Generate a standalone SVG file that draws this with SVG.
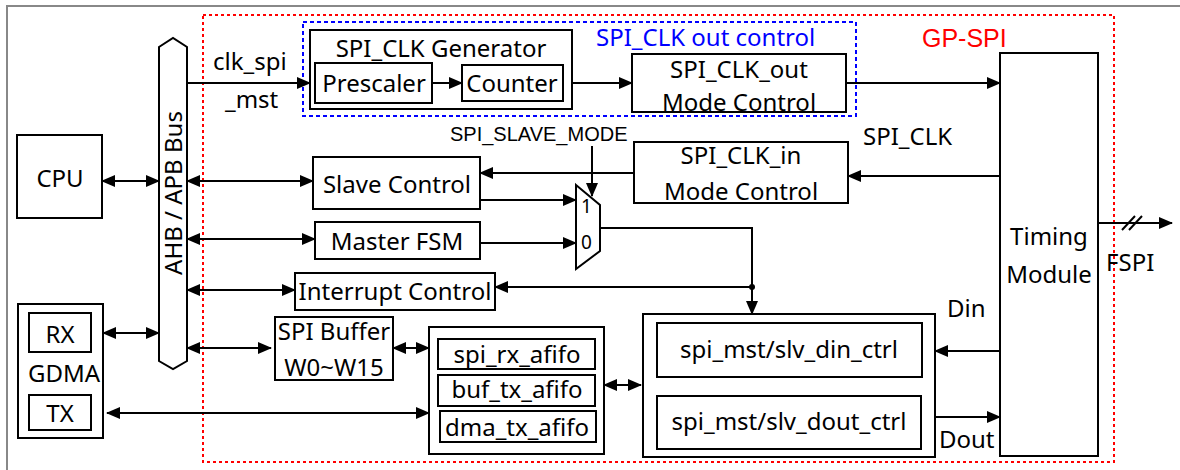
<svg xmlns="http://www.w3.org/2000/svg" width="1180" height="470" viewBox="0 0 1180 470">
<defs>
<style>
.b{fill:#fff;stroke:#000;stroke-width:2}
.n{fill:none;stroke:#000;stroke-width:2}
.t{font-family:"Noto Sans","Noto Sans CJK SC",sans-serif;font-size:24px;fill:#000}
.c{text-anchor:middle}
.a{font-family:"Liberation Sans",Arial,sans-serif}
.w{fill:none;stroke:#000;stroke-width:2}
.ar{marker-end:url(#ah)}
.bi{marker-start:url(#ah);marker-end:url(#ah)}
</style>
<marker id="ah" markerUnits="userSpaceOnUse" markerWidth="14" markerHeight="12" refX="13" refY="6" orient="auto-start-reverse"><path d="M0,0 L14,6 L0,12 z" fill="#000"/></marker>
</defs>
<rect x="7" y="6" width="1200" height="500" fill="#fff" stroke="#888" stroke-width="2"/>
<rect x="203" y="15" width="911" height="447" fill="none" stroke="#f00" stroke-width="2" stroke-dasharray="3,3"/>
<rect x="303" y="22" width="553" height="94" fill="none" stroke="#00f" stroke-width="2" stroke-dasharray="4,3"/>
<text class="t" x="596" y="46" style="fill:#00f">SPI_CLK out control</text>
<text class="t a" x="922" y="47" style="fill:#f00;font-size:25px">GP-SPI</text>

<g id="bus"><path class="b" d="M159,47 L173,38 L187,47 L187,361 L173,369 L159,361 Z"/><text class="t c" transform="translate(182,193) rotate(-90)">AHB / APB Bus</text></g>
<g id="cpu"><rect class="b" x="17" y="135" width="85" height="83"/><text class="t c" x="60" y="187">CPU</text></g>
<g id="gdma"><rect class="b" x="18" y="304" width="85" height="134"/><rect class="b" x="29" y="313" width="62" height="39"/><text class="t c" x="60" y="343">RX</text><text class="t c" x="64" y="382">GDMA</text><rect class="b" x="29" y="395" width="62" height="35"/><text class="t c" x="60" y="422">TX</text></g>
<g id="clkgen"><rect class="b" x="310" y="30" width="262" height="79"/><text class="t c" x="441" y="57">SPI_CLK Generator</text><rect class="b" x="315" y="63" width="117" height="40"/><text class="t c" x="374" y="92">Prescaler</text><rect class="b" x="462" y="65" width="101" height="36"/><text class="t c" x="512" y="92">Counter</text></g>
<g id="clkout"><rect class="b" x="632" y="54" width="214" height="58"/><text class="t c" x="739" y="78">SPI_CLK_out</text><text class="t c" x="739" y="111">Mode Control</text></g>
<g id="clkin"><rect class="b" x="634" y="142" width="214" height="61"/><text class="t c" x="741" y="164">SPI_CLK_in</text><text class="t c" x="741" y="200">Mode Control</text></g>
<g id="slave"><rect class="b" x="313" y="157" width="167" height="52"/><text class="t c" x="397" y="193">Slave Control</text></g>
<g id="master"><rect class="b" x="315" y="222" width="165" height="37"/><text class="t c" x="397" y="250">Master FSM</text></g>
<g id="intr"><rect class="b" x="295" y="273" width="200" height="37"/><text class="t c" x="395" y="300">Interrupt Control</text></g>
<g id="mux"><path class="b" d="M576,185 L600,205 L600,251 L576,269 Z"/><text class="t" x="581" y="213" style="font-size:19px">1</text><text class="t" x="581" y="249" style="font-size:19px">0</text></g>
<g id="buffer"><rect class="b" x="275" y="317" width="118" height="63"/><text class="t c" x="334" y="340">SPI Buffer</text><text class="t c" x="334" y="376">W0~W15</text></g>
<g id="fifo"><rect class="b" x="429" y="327" width="175" height="127"/><rect class="b" x="438" y="339" width="157" height="30"/><text class="t c" x="517" y="363">spi_rx_afifo</text><rect class="b" x="438" y="375" width="157" height="31"/><text class="t c" x="517" y="398">buf_tx_afifo</text><rect class="b" x="440" y="411" width="156" height="31"/><text class="t c" x="517" y="436">dma_tx_afifo</text></g>
<g id="mstctrl"><rect class="b" x="643" y="314" width="292" height="143"/><rect class="b" x="657" y="323" width="265" height="54"/><text class="t c" x="789" y="358">spi_mst/slv_din_ctrl</text><rect class="b" x="657" y="396" width="264" height="53"/><text class="t c" x="789" y="430">spi_mst/slv_dout_ctrl</text></g>
<g id="timing"><rect class="b" x="1000" y="53" width="98" height="403"/><text class="t c" x="1049" y="245">Timing</text><text class="t c" x="1049" y="283">Module</text></g>

<g id="connectors">
<path class="w ar" d="M187,83 L310,83"/>
<path class="w ar" d="M432,83 L462,83"/>
<path class="w ar" d="M572,83 L632,83"/>
<path class="w ar" d="M846,83 L1000,83"/>
<path class="w ar" d="M1000,176 L848,176"/>
<path class="w ar" d="M634,173 L480,173"/>
<path class="w ar" d="M592,146 L592,196"/>
<path class="w ar" d="M480,200 L576,200"/>
<path class="w ar" d="M480,243 L576,243"/>
<path class="w ar" d="M600,228 L752,228 L752,314"/>
<path class="w ar" d="M752,287 L495,287"/>
<circle cx="752" cy="287" r="3" fill="#000"/>
<path class="w bi" d="M102,181 L159,181"/>
<path class="w bi" d="M187,181 L313,181"/>
<path class="w bi" d="M187,239 L315,239"/>
<path class="w bi" d="M187,290 L295,290"/>
<path class="w bi" d="M103,333 L159,333"/>
<path class="w bi" d="M187,348 L271,348"/>
<path class="w bi" d="M393,348 L429,348"/>
<path class="w bi" d="M107,413 L429,413"/>
<path class="w bi" d="M604,385 L641,385"/>
<path class="w ar" d="M1000,351 L935,351"/>
<path class="w ar" d="M935,417 L1000,417"/>
<path class="w ar" d="M1098,223 L1172,223"/>
<path class="w" d="M1122,230 L1135,216 M1129,230 L1142,216"/>
</g>
<text class="t" x="213" y="70">clk_spi</text>
<text class="t" x="225" y="108">_mst</text>
<text class="t a" x="450" y="141" style="font-size:20px">SPI_SLAVE_MODE</text>
<text class="t" x="863" y="145">SPI_CLK</text>
<text class="t" x="947" y="317">Din</text>
<text class="t" x="939" y="448">Dout</text>
<text class="t" x="1106" y="271">FSPI</text>
</svg>
